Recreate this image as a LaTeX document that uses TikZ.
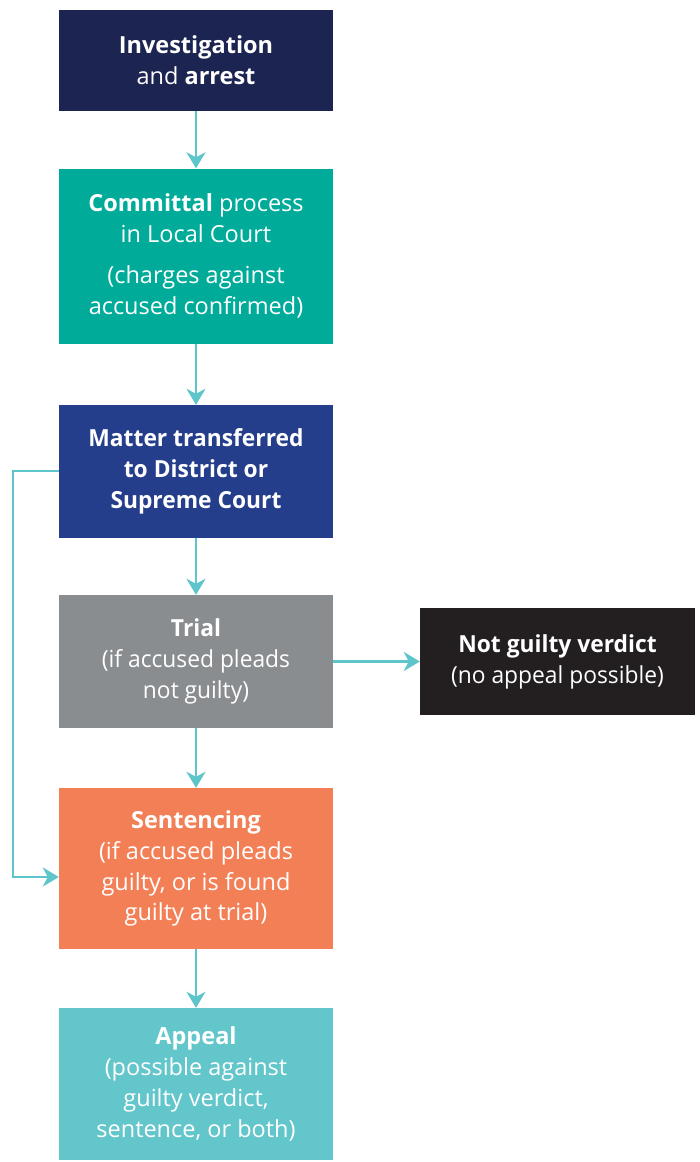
\documentclass[tikz,border=0pt]{standalone}
\usepackage{fontspec}
\setmainfont{Open Sans}
\newfontfamily\condfont[FakeStretch=0.97]{Open Sans}
\usetikzlibrary{arrows.meta}
\definecolor{navy}{HTML}{1C2551}
\definecolor{teal1}{HTML}{00AC99}
\definecolor{blue1}{HTML}{253E8B}
\definecolor{grey1}{HTML}{898D90}
\definecolor{black1}{HTML}{231F20}
\definecolor{orange1}{HTML}{F37F56}
\definecolor{teal2}{HTML}{62C6CB}
\definecolor{arrowc}{HTML}{5EC5CB}
\tikzset{
  box/.style={rectangle, inner sep=0pt, minimum width=274pt, text=white, align=center,
    font=\fontsize{23.5}{30.8}\selectfont},
  conn/.style={draw=arrowc, line width=2.5pt, -{Stealth[length=16pt,width=19pt,inset=5pt]}}
}
\begin{document}
\begin{tikzpicture}[x=1pt,y=-1pt]
\useasboundingbox (0,0) rectangle (699,1162);
\node[box, fill=navy, minimum height=101pt] (inv) at (196,60.5)
  {\textbf{Investigation}\\and \textbf{arrest}};
\node[box, fill=teal1, minimum height=175pt] (com) at (196,256)
  {\textbf{Committal} process\\in Local Court\\[10pt](charges against\\accused confirmed)};
\node[box, fill=blue1, minimum height=133pt, font=\fontsize{23.5}{30.8}\condfont] (mat) at (196,471.5)
  {\textbf{Matter transferred}\\\textbf{to District or}\\\textbf{Supreme Court}};
\node[box, fill=grey1, minimum height=133pt, font=\fontsize{23.5}{30.8}\condfont] (tri) at (196,661.5)
  {\textbf{Trial}\\(if accused pleads\\not guilty)};
\node[box, fill=black1, minimum width=275pt, minimum height=107pt, font=\fontsize{23.5}{30.8}\condfont] (ngv) at (557.5,661.5)
  {\textbf{Not guilty verdict}\\(no appeal possible)};
\node[box, fill=orange1, minimum height=161pt] (sen) at (196,868.5)
  {\textbf{Sentencing}\\(if accused pleads\\guilty, or is found\\guilty at trial)};
\node[box, fill=teal2, minimum height=152pt] (app) at (196,1084)
  {\textbf{Appeal}\\(possible against\\guilty verdict,\\sentence, or both)};
\draw[conn] (inv) -- (com);
\draw[conn] (com) -- (mat);
\draw[conn] (mat) -- (tri);
\draw[conn] (tri) -- (ngv);
\draw[conn] (tri) -- (sen);
\draw[conn] (sen) -- (app);
\coordinate (c1) at (13,471);
\coordinate (c2) at (13,877);
\draw[conn] (mat.west |- c1) -- (c1) -- (c2) -- (sen.west |- c2);
\end{tikzpicture}
\end{document}
